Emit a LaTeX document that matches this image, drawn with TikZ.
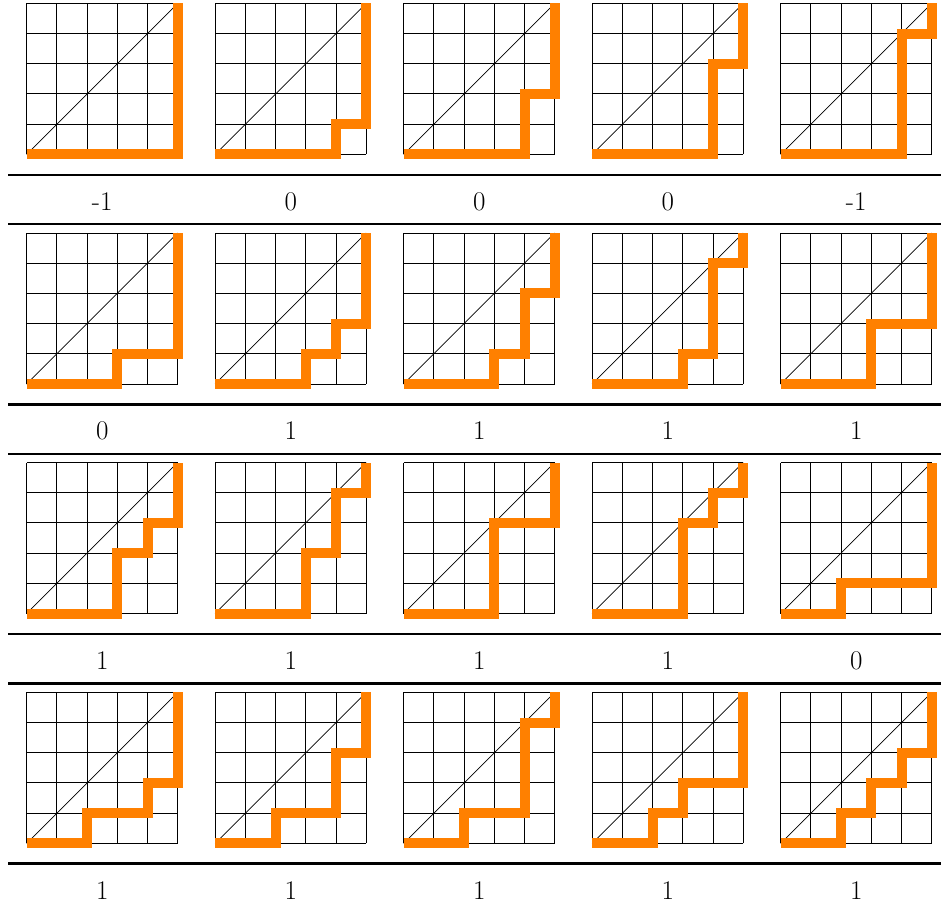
\documentclass[tikz,border=0pt]{standalone}
\usepackage{tikz}
\tikzset{
  gridline/.style={draw=black, line width=0.9pt},
  diagline/.style={draw=black, line width=0.7pt},
  lattpath/.style={draw={rgb,255:red,255;green,128;blue,0}, line width=10pt, line join=miter, line cap=butt},
  rulerline/.style={draw=black, line width=2.4pt},
  lbl/.style={inner sep=0pt, anchor=center, font=\fontsize{27}{32}\selectfont}
}
\newcommand{\dyckgrid}[5]{%
  \begin{scope}[shift={(#1pt,-#2pt)}, x=30.2pt, y=30.2pt]
    \foreach \k in {0,...,5} {\draw[gridline] (\k,0) -- (\k,5); \draw[gridline] (0,\k) -- (5,\k);}
    \draw[diagline] (0,0) -- (5,5);
    \draw[lattpath] #3;
  \end{scope}
  \node[lbl] (#5) at (#1pt+75.5pt, -#2pt-47pt) {#4};
}
\begin{document}
\begin{tikzpicture}
\useasboundingbox (0pt,0pt) rectangle (941pt,-911pt);
% row 1
\dyckgrid{26.7}{154.3}{(0,0)--(5,0)--(5,5)}{-1}{l11}
\dyckgrid{215.2}{154.3}{(0,0)--(4,0)--(4,1)--(5,1)--(5,5)}{0}{l12}
\dyckgrid{403.7}{154.3}{(0,0)--(4,0)--(4,2)--(5,2)--(5,5)}{0}{l13}
\dyckgrid{592.2}{154.3}{(0,0)--(4,0)--(4,3)--(5,3)--(5,5)}{0}{l14}
\dyckgrid{780.7}{154.3}{(0,0)--(4,0)--(4,4)--(5,4)--(5,5)}{-1}{l15}
% row 2
\dyckgrid{26.7}{384.0}{(0,0)--(3,0)--(3,1)--(5,1)--(5,5)}{0}{l21}
\dyckgrid{215.2}{384.0}{(0,0)--(3,0)--(3,1)--(4,1)--(4,2)--(5,2)--(5,5)}{1}{l22}
\dyckgrid{403.7}{384.0}{(0,0)--(3,0)--(3,1)--(4,1)--(4,3)--(5,3)--(5,5)}{1}{l23}
\dyckgrid{592.2}{384.0}{(0,0)--(3,0)--(3,1)--(4,1)--(4,4)--(5,4)--(5,5)}{1}{l24}
\dyckgrid{780.7}{384.0}{(0,0)--(3,0)--(3,2)--(5,2)--(5,5)}{1}{l25}
% row 3
\dyckgrid{26.7}{613.5}{(0,0)--(3,0)--(3,2)--(4,2)--(4,3)--(5,3)--(5,5)}{1}{l31}
\dyckgrid{215.2}{613.5}{(0,0)--(3,0)--(3,2)--(4,2)--(4,4)--(5,4)--(5,5)}{1}{l32}
\dyckgrid{403.7}{613.5}{(0,0)--(3,0)--(3,3)--(5,3)--(5,5)}{1}{l33}
\dyckgrid{592.2}{613.5}{(0,0)--(3,0)--(3,3)--(4,3)--(4,4)--(5,4)--(5,5)}{1}{l34}
\dyckgrid{780.7}{613.5}{(0,0)--(2,0)--(2,1)--(5,1)--(5,5)}{0}{l35}
% row 4
\dyckgrid{26.7}{843.3}{(0,0)--(2,0)--(2,1)--(4,1)--(4,2)--(5,2)--(5,5)}{1}{l41}
\dyckgrid{215.2}{843.3}{(0,0)--(2,0)--(2,1)--(4,1)--(4,3)--(5,3)--(5,5)}{1}{l42}
\dyckgrid{403.7}{843.3}{(0,0)--(2,0)--(2,1)--(4,1)--(4,4)--(5,4)--(5,5)}{1}{l43}
\dyckgrid{592.2}{843.3}{(0,0)--(2,0)--(2,1)--(3,1)--(3,2)--(5,2)--(5,5)}{1}{l44}
\dyckgrid{780.7}{843.3}{(0,0)--(2,0)--(2,1)--(3,1)--(3,2)--(4,2)--(4,3)--(5,3)--(5,5)}{1}{l45}
% rules
\draw[rulerline] (8.3pt,-175pt) -- (941pt,-175pt);
\draw[rulerline] (8.3pt,-224pt) -- (941pt,-224pt);
\draw[rulerline] (8.3pt,-404.5pt) -- (941pt,-404.5pt);
\draw[rulerline] (8.3pt,-454pt) -- (941pt,-454pt);
\draw[rulerline] (8.3pt,-634pt) -- (941pt,-634pt);
\draw[rulerline] (8.3pt,-683.5pt) -- (941pt,-683.5pt);
\draw[rulerline] (8.3pt,-863.5pt) -- (941pt,-863.5pt);
\end{tikzpicture}
\end{document}
